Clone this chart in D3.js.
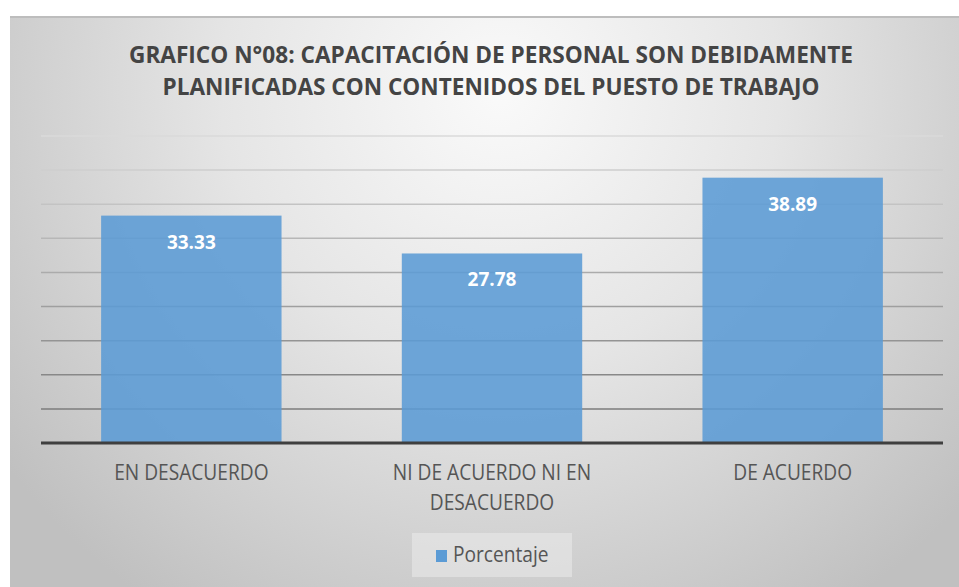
<!DOCTYPE html>
<html>
<head>
<meta charset="utf-8">
<script src="https://cdnjs.cloudflare.com/ajax/libs/d3/7.8.5/d3.min.js"></script>
<style>
  body { margin: 0; background: #fff; }
  text { font-family: "Open Sans", "DejaVu Sans", sans-serif; }
</style>
</head>
<body>
<svg id="chart" width="959" height="587"></svg>
<script>
const titleLines = [
  "GRAFICO N°08: CAPACITACIÓN DE PERSONAL SON DEBIDAMENTE",
  "PLANIFICADAS CON CONTENIDOS DEL PUESTO DE TRABAJO"
];
const categories = ["EN DESACUERDO", "NI DE ACUERDO NI EN DESACUERDO", "DE ACUERDO"];
const values = [33.33, 27.78, 38.89];
const gridValues = [5, 10, 15, 20, 25, 30, 35, 40, 45];
const seriesName = "Porcentaje";

const svg = d3.select("#chart");
const width = 959, height = 587;
const plot = { left: 41, right: 943, top: 136, bottom: 443 };
const barColor = "#5b9bd5";
const squeeze = 0.87; // Open Sans is wider than the original font

// background panel with radial gradient
const defs = svg.append("defs");
const grad = defs.append("radialGradient")
  .attr("id", "bg")
  .attr("gradientUnits", "userSpaceOnUse")
  .attr("cx", 500).attr("cy", 90).attr("r", 620);
grad.append("stop").attr("offset", "0").attr("stop-color", "#fafafa");
grad.append("stop").attr("offset", "0.45").attr("stop-color", "#e5e5e5");
grad.append("stop").attr("offset", "1").attr("stop-color", "#c0c0c0");

svg.append("rect")
  .attr("x", 10).attr("y", 16)
  .attr("width", width - 10).attr("height", height - 16)
  .attr("fill", "url(#bg)");
svg.append("line")
  .attr("x1", 10).attr("x2", width).attr("y1", 17).attr("y2", 17)
  .attr("stroke", "#bdbdbd").attr("stroke-width", 2);

// title
svg.append("text")
  .attr("x", 491).attr("y", 63)
  .attr("text-anchor", "middle")
  .attr("font-size", 23).attr("font-weight", "bold")
  .attr("fill", "#444444")
  .attr("textLength", 724).attr("lengthAdjust", "spacingAndGlyphs")
  .text(titleLines[0]);
svg.append("text")
  .attr("x", 491).attr("y", 95)
  .attr("text-anchor", "middle")
  .attr("font-size", 23).attr("font-weight", "bold")
  .attr("fill", "#444444")
  .attr("textLength", 657).attr("lengthAdjust", "spacingAndGlyphs")
  .text(titleLines[1]);

// scales
const x = d3.scaleBand()
  .domain(categories)
  .range([plot.left, plot.right])
  .paddingInner(0.4)
  .paddingOuter(0.2);

const y = d3.scaleLinear()
  .domain([0, 45])
  .range([plot.bottom, plot.top]);

// gridlines, lighter toward the top
const gridColor = d3.scaleLinear()
  .domain([5, 45])
  .range(["#7c7c7c", "#dadada"]);

svg.append("g")
  .selectAll("line")
  .data(gridValues)
  .enter()
  .append("line")
  .attr("x1", plot.left).attr("x2", plot.right)
  .attr("y1", d => y(d)).attr("y2", d => y(d))
  .attr("stroke", d => gridColor(d))
  .attr("stroke-width", 1.5);

// bars
svg.append("g")
  .selectAll("rect")
  .data(values)
  .enter()
  .append("rect")
  .attr("x", (d, i) => x(categories[i]))
  .attr("y", d => y(d))
  .attr("width", x.bandwidth())
  .attr("height", d => y(0) - y(d))
  .attr("fill", barColor)
  .attr("fill-opacity", 0.88);

// value labels
svg.append("g")
  .selectAll("text")
  .data(values)
  .enter()
  .append("text")
  .attr("x", (d, i) => x(categories[i]) + x.bandwidth() / 2)
  .attr("y", d => y(d) + 33)
  .attr("text-anchor", "middle")
  .attr("font-size", 19).attr("font-weight", "bold")
  .attr("fill", "#ffffff")
  .text(d => d.toFixed(2));

// x axis
const xAxis = svg.append("g")
  .attr("transform", `translate(0,${plot.bottom})`)
  .call(d3.axisBottom(x).tickSize(0).tickPadding(0));

xAxis.select(".domain").remove();
svg.append("line")
  .attr("x1", plot.left).attr("x2", plot.right)
  .attr("y1", plot.bottom).attr("y2", plot.bottom)
  .attr("stroke", "#3f3f3f").attr("stroke-width", 3);

xAxis.selectAll(".tick text")
  .attr("font-size", 22)
  .attr("fill", "#555555")
  .attr("font-family", "Open Sans")
  .each(function(label) {
    const t = d3.select(this);
    const words = label.split(" ");
    t.text(null);
    let lines = [];
    let cur = [];
    const probe = t.append("tspan");
    words.forEach(w => {
      const trial = cur.concat(w).join(" ");
      probe.text(trial);
      if (probe.node().getComputedTextLength() * squeeze > 225 && cur.length) {
        lines.push(cur.join(" "));
        cur = [w];
      } else {
        cur.push(w);
      }
    });
    lines.push(cur.join(" "));
    probe.remove();
    lines.forEach((ln, i) => {
      const span = t.append("tspan")
        .attr("x", 0)
        .attr("y", 37 + i * 30)
        .attr("dy", 0)
        .text(ln);
      const w = span.node().getComputedTextLength();
      span.attr("textLength", w * squeeze).attr("lengthAdjust", "spacingAndGlyphs");
    });
  });

// legend
const legend = svg.append("g");
legend.append("rect")
  .attr("x", 412).attr("y", 533)
  .attr("width", 160).attr("height", 44)
  .attr("fill", "#ededed").attr("fill-opacity", 0.5);
legend.append("rect")
  .attr("x", 436).attr("y", 550)
  .attr("width", 11).attr("height", 12)
  .attr("fill", barColor);
const legendText = legend.append("text")
  .attr("x", 453).attr("y", 562)
  .attr("font-size", 22)
  .attr("fill", "#555555")
  .text(seriesName);
legendText.attr("textLength", legendText.node().getComputedTextLength() * squeeze)
  .attr("lengthAdjust", "spacingAndGlyphs");
</script>
</body>
</html>
